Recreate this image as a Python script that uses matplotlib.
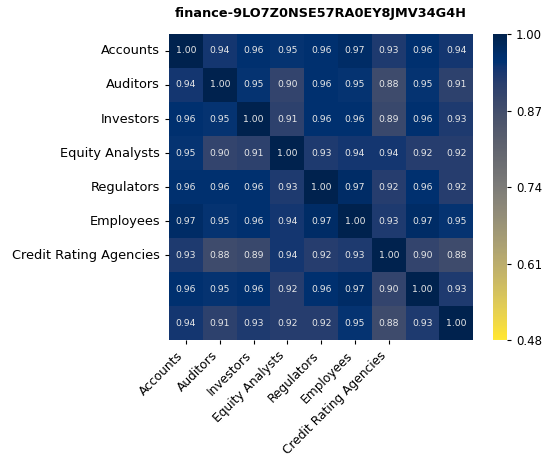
import numpy as np
import matplotlib
matplotlib.use("Agg")
from matplotlib import pyplot as plt
import seaborn as sns

# stakeholder labels (last two rows/cols have no label in the original)
labels = ["Accounts", "Auditors", "Investors", "Equity Analysts",
          "Regulators", "Employees", "Credit Rating Agencies"]

corr = [
    [1.00, 0.94, 0.96, 0.95, 0.96, 0.97, 0.93, 0.96, 0.94],
    [0.94, 1.00, 0.95, 0.90, 0.96, 0.95, 0.88, 0.95, 0.91],
    [0.96, 0.95, 1.00, 0.91, 0.96, 0.96, 0.89, 0.96, 0.93],
    [0.95, 0.90, 0.91, 1.00, 0.93, 0.94, 0.94, 0.92, 0.92],
    [0.96, 0.96, 0.96, 0.93, 1.00, 0.97, 0.92, 0.96, 0.92],
    [0.97, 0.95, 0.96, 0.94, 0.97, 1.00, 0.93, 0.97, 0.95],
    [0.93, 0.88, 0.89, 0.94, 0.92, 0.93, 1.00, 0.90, 0.88],
    [0.96, 0.95, 0.96, 0.92, 0.96, 0.97, 0.90, 1.00, 0.93],
    [0.94, 0.91, 0.93, 0.92, 0.92, 0.95, 0.88, 0.93, 1.00],
]
cbar_ticks = [0.48, 0.61, 0.74, 0.87, 1.00]

fig = plt.figure(figsize=(5.49, 4.59), dpi=100)
ax = fig.add_axes([0.308, 0.259, 0.554, 0.667])
cax = fig.add_axes([0.898, 0.259, 0.0255, 0.667])

sns.heatmap(np.array(corr), ax=ax, cbar_ax=cax, cmap="cividis_r",
            vmin=cbar_ticks[0], vmax=cbar_ticks[-1],
            annot=True, fmt=".2f", annot_kws={"size": 6.7, "color": "#e8e8e8"},
            cbar_kws={"ticks": cbar_ticks})

ticks = np.arange(len(labels)) + 0.5
ax.set_xticks(ticks)
ax.set_xticklabels(labels, rotation=45, ha="right", fontsize=8.8)
ax.set_yticks(ticks)
ax.set_yticklabels(labels, rotation=0, fontsize=9.3)
ax.tick_params(length=3)

cax.set_yticklabels([f"{t:.2f}" for t in cbar_ticks])
cax.tick_params(labelsize=8.5, length=3)

fig.suptitle("finance-9LO7Z0NSE57RA0EY8JMV34G4H", fontsize=9.3, fontweight="bold",
             x=0.585, y=0.985)

fig.savefig("out.png", dpi=100)
